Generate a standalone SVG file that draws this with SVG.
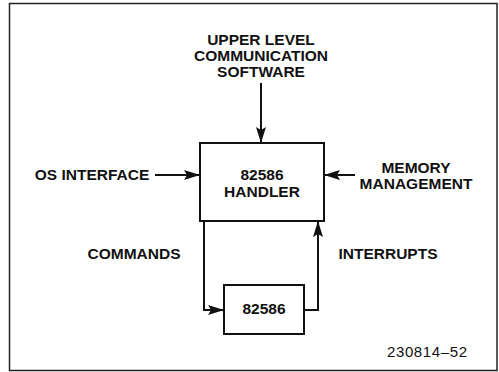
<svg xmlns="http://www.w3.org/2000/svg" width="499" height="372" viewBox="0 0 499 372">
<style>
.t{font-family:"Liberation Sans",Arial,sans-serif;font-weight:bold;font-size:15.5px;fill:#111;text-anchor:middle}
.n{font-family:"Liberation Sans",Arial,sans-serif;font-size:15px;fill:#111;text-anchor:middle}
.box{fill:#fff;stroke:#111;stroke-width:2}
.ln{fill:none;stroke:#111;stroke-width:2}
</style>
<defs>
<marker id="ah" viewBox="0 0 16 10" refX="16" refY="5" markerWidth="16" markerHeight="10" markerUnits="userSpaceOnUse" orient="auto">
<path d="M0,0 L16,5 L0,10 L3,5 Z" fill="#111"/>
</marker>
</defs>
<rect x="9.5" y="3.5" width="487.5" height="367" fill="#fff" stroke="#222" stroke-width="1.5"/>
<g id="upper">
<text class="t" x="261" y="45">UPPER LEVEL</text>
<text class="t" x="261" y="61">COMMUNICATION</text>
<text class="t" x="261" y="77">SOFTWARE</text>
</g>
<g id="os"><text class="t" x="92" y="180">OS INTERFACE</text></g>
<g id="mem">
<text class="t" x="416" y="173">MEMORY</text>
<text class="t" x="416" y="189">MANAGEMENT</text>
</g>
<g id="handler">
<rect class="box" x="200" y="143" width="124" height="78"/>
<text class="t" x="262" y="180">82586</text>
<text class="t" x="262" y="197">HANDLER</text>
</g>
<g id="chip">
<rect class="box" x="224" y="285" width="80" height="49"/>
<text class="t" x="264" y="314">82586</text>
</g>
<g id="labels">
<text class="t" x="134" y="259">COMMANDS</text>
<text class="t" x="388" y="259">INTERRUPTS</text>
<text class="n" x="427" y="357" textLength="80">230814–52</text>
</g>
<g id="connectors">
<line class="ln" x1="261" y1="83" x2="261" y2="143" marker-end="url(#ah)"/>
<line class="ln" x1="155" y1="175" x2="200" y2="175" marker-end="url(#ah)"/>
<line class="ln" x1="355" y1="175" x2="324" y2="175" marker-end="url(#ah)"/>
<polyline class="ln" points="204,221 204,310 224,310" marker-end="url(#ah)"/>
<polyline class="ln" points="304,310 318,310 318,221" marker-end="url(#ah)"/>
</g>
</svg>
